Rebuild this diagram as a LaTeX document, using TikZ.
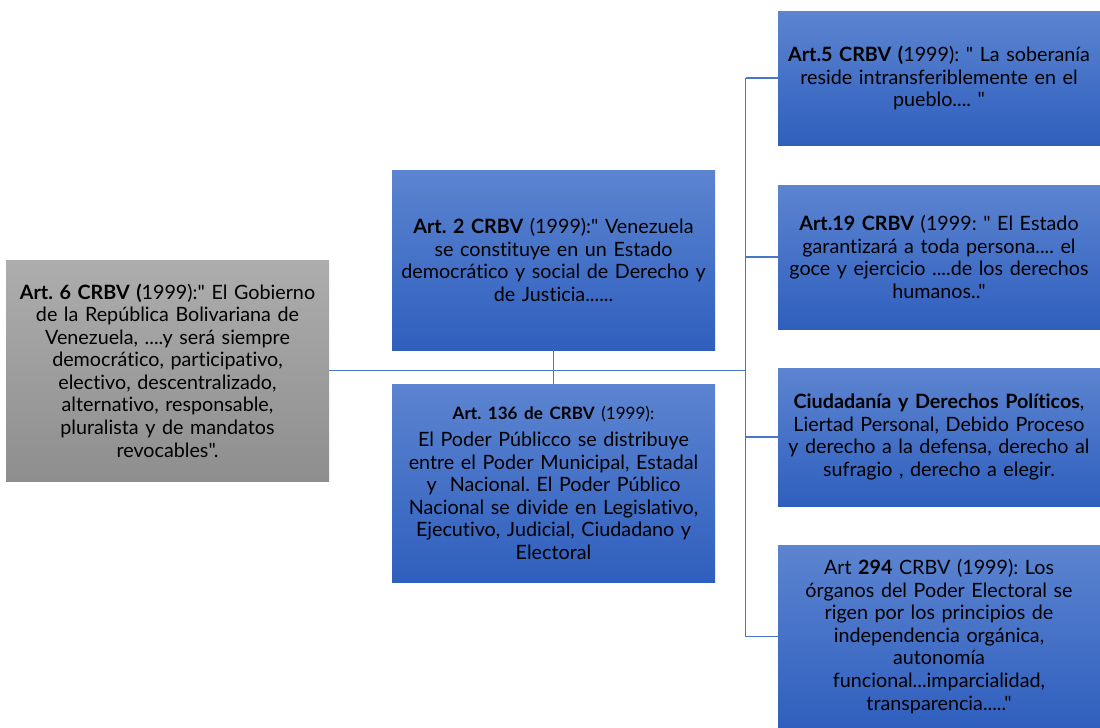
\documentclass[tikz,border=0pt]{standalone}
\usepackage{fontspec}
\setmainfont{Lato}[Ligatures={TeXOff,NoCommon}]
\usepackage{tikz}
\frenchspacing

\definecolor{bluetop}{HTML}{5C84D0}
\definecolor{bluebot}{HTML}{2F5FBE}
\definecolor{graytop}{HTML}{ADADAD}
\definecolor{graybot}{HTML}{8E8E8E}
\definecolor{linkblue}{HTML}{4A76C8}

\tikzset{
  artbox/.style={rectangle, inner sep=0pt, align=center, text=black,
    text width=240pt, font=\fontsize{14.8}{16.9}\selectfont},
  bluebox/.style={artbox, top color=bluetop, bottom color=bluebot},
  graybox/.style={artbox, top color=graytop, bottom color=graybot},
  link/.style={linkblue, line width=1.3pt}
}

\begin{document}
\begin{tikzpicture}[x=0.75pt,y=-0.75pt]
		\useasboundingbox (0,0) rectangle (1100,728);
		%
		\node [graybox, minimum width=242.25pt, minimum height=165.75pt] (art6) at (167.5,370.5)
			{\textbf{Art. 6 CRBV (}1999):" El Gobierno\\de la República Bolivariana de\\Venezuela, ....y será siempre\\democrático, participativo,\\electivo, descentralizado,\\alternativo, responsable,\\pluralista y de mandatos\\revocables".};
		%
		\node [bluebox, minimum width=242.25pt, minimum height=135pt] (art2) at (553.5,260)
			{\textbf{Art. 2 CRBV} (1999):" Venezuela\\se constituye en un Estado\\democrático y social de Derecho y\\de Justicia......};
		\node [bluebox, minimum width=242.25pt, minimum height=148.5pt] (art136) at (553.5,483)
			{{\fontsize{12.8}{14}\selectfont\textbf{Art. 136 de CRBV} (1999):}\\[3pt]El Poder Públicco se distribuye\\entre el Poder Municipal, Estadal\\y~ Nacional. El Poder Público\\Nacional se divide en Legislativo,\\Ejecutivo, Judicial, Ciudadano y\\Electoral};
		%
		\node [bluebox, minimum width=241.5pt, minimum height=100.5pt] (art5) at (939,78)
			{\textbf{Art.5 CRBV (}1999): " La soberanía\\reside intransferiblemente en el\\pueblo.... "};
		\node [bluebox, minimum width=241.5pt, minimum height=108pt] (art19) at (939,257)
			{\textbf{Art.19 CRBV} (1999: " El Estado\\garantizará a toda persona.... el\\goce y ejercicio ....de los derechos\\humanos.."};
		\node [bluebox, minimum width=241.5pt, minimum height=103.5pt] (ciud) at (939,437)
			{\textbf{Ciudadanía y Derechos Políticos},\\Liertad Personal, Debido Proceso\\y derecho a la defensa, derecho al\\sufragio , derecho a elegir.};
		\node [bluebox, minimum width=241.5pt, minimum height=137.25pt] (art294) at (939,636.5)
			{Art \textbf{294} CRBV (1999): Los\\órganos del Poder Electoral se\\rigen por los principios de\\independencia orgánica,\\autonomía\\funcional...imparcialidad,\\transparencia....."};
		%
		\coordinate (jn) at (745.5,370.5);
		\draw [link] (art6.east) -- (jn);
		\draw [link] (art2.south) -- (art136.north);
		\draw [link] (jn |- art5.west) -- (jn |- art294.west);
		\foreach \n in {art5,art19,ciud,art294}
			\draw [link] (jn |- \n.west) -- (\n.west);
	\end{tikzpicture}
\end{document}
